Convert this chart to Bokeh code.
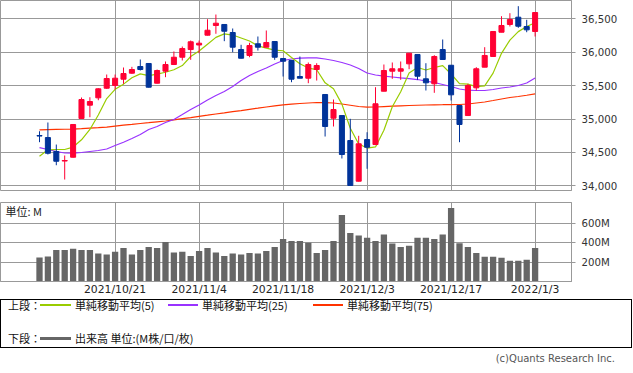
from bokeh.plotting import figure
from bokeh.layouts import column
from bokeh.models import (Range1d, FixedTicker, Grid, Label, Div,
                          NumeralTickFormatter, PrintfTickFormatter, ColumnDataSource)
from bokeh.embed import file_html
from bokeh.resources import INLINE

# ---------------- data ----------------
opens = [34753, 34723, 34514, 34371, 34428, 35008, 35207, 35317, 35461, 35502,
         35596, 35686, 35786, 35831, 35536, 35716, 35816, 35925, 36040, 36108,
         36255, 36400, 36415, 36295, 36040, 35951, 36126, 36075, 36160, 35906,
         35876, 35636, 35611, 35741, 35367, 35012, 35052, 34678, 34069, 34693,
         34618, 35416, 35716, 35716, 35826, 35966, 35602, 35527, 36040, 35805,
         35202, 35052, 35467, 35776, 35936, 36299, 36415, 36524, 36385, 36310]
highs = [34817, 34948, 34618, 34454, 34925, 35322, 35326, 35461, 35666, 35666,
         35771, 35781, 35891, 35838, 35741, 35861, 36011, 36085, 36175, 36175,
         36494, 36564, 36415, 36355, 36111, 36141, 36235, 36325, 36160, 35906,
         35876, 35936, 35846, 35835, 35367, 35292, 35052, 35003, 34749, 34802,
         35476, 35816, 35846, 35861, 35985, 35966, 35835, 35955, 36190, 35805,
         35202, 35527, 35776, 36075, 36310, 36539, 36584, 36689, 36485, 36594]
lows = [34653, 34469, 34308, 34094, 34424, 35008, 35027, 35281, 35452, 35442,
        35527, 35677, 35726, 35472, 35532, 35626, 35808, 35876, 35886, 35985,
        36250, 36276, 36165, 36000, 35906, 35925, 36025, 36075, 35886, 35636,
        35551, 35611, 35536, 35576, 34738, 34888, 34409, 34005, 34065, 34255,
        34618, 35416, 35602, 35587, 35746, 35587, 35427, 35392, 35891, 35277,
        34653, 35052, 35427, 35776, 35936, 36299, 36385, 36365, 36299, 36235]
closes = [34745, 34488, 34368, 34379, 34918, 35292, 35262, 35452, 35606, 35611,
          35681, 35741, 35741, 35476, 35726, 35816, 35925, 36055, 36156, 36135,
          36329, 36434, 36314, 36075, 35910, 36100, 36075, 36145, 35925, 35865,
          35596, 35611, 35816, 35801, 34888, 35142, 34469, 34005, 34629, 34578,
          35228, 35726, 35752, 35752, 35985, 35641, 35542, 35936, 35891, 35362,
          34918, 35502, 35752, 35951, 36310, 36400, 36490, 36389, 36335, 36594]
ma5 = [34443, 34539, 34544, 34544, 34580, 34689, 34844, 35061, 35306, 35445,
       35522, 35618, 35676, 35650, 35673, 35700, 35737, 35800, 35936, 36017,
       36120, 36222, 36274, 36257, 36212, 36167, 36095, 36061, 36031, 36022,
       35921, 35828, 35763, 35738, 35542, 35452, 35223, 34861, 34627, 34565,
       34582, 34833, 35183, 35407, 35689, 35771, 35734, 35771, 35799, 35674,
       35530, 35522, 35485, 35497, 35687, 35983, 36181, 36308, 36385, 36442]
ma25 = [34573, 34544, 34514, 34491, 34488, 34499, 34514, 34529, 34551, 34603,
        34653, 34708, 34768, 34843, 34888, 34948, 34993, 35067, 35142, 35210,
        35285, 35352, 35412, 35487, 35576, 35651, 35711, 35764, 35823, 35876,
        35898, 35910, 35916, 35916, 35898, 35876, 35846, 35808, 35756, 35689,
        35659, 35641, 35629, 35617, 35606, 35591, 35569, 35546, 35517, 35487,
        35449, 35431, 35427, 35427, 35442, 35464, 35479, 35502, 35539, 35614]
ma75 = [34838, 34841, 34844, 34847, 34850, 34857, 34865, 34872, 34880, 34895,
        34908, 34920, 34933, 34945, 34958, 34970, 34987, 35005, 35022, 35040,
        35057, 35075, 35092, 35110, 35127, 35145, 35162, 35180, 35197, 35213,
        35223, 35232, 35240, 35247, 35244, 35240, 35225, 35206, 35187, 35177,
        35180, 35186, 35192, 35198, 35202, 35206, 35210, 35213, 35214, 35216,
        35217, 35225, 35240, 35255, 35277, 35300, 35322, 35337, 35356, 35377]
volume_m = [248, 258, 327, 327, 338, 327, 327, 289, 279, 307,
            348, 279, 327, 358, 348, 410, 300, 307, 265, 317,
            348, 300, 265, 289, 279, 296, 289, 317, 358, 441,
            420, 420, 400, 296, 327, 420, 688, 503, 476, 452,
            420, 486, 393, 358, 369, 452, 452, 441, 486, 762,
            396, 358, 296, 255, 255, 245, 214, 214, 224, 348]
tick_index = [9, 19, 29, 39, 49, 59]
tick_labels = ["2021/10/21", "2021/11/4", "2021/11/18", "2021/12/3", "2021/12/17", "2022/1/3"]
price_ticks = [34000, 34500, 35000, 35500, 36000, 36500]
volume_ticks = [200, 400, 600]
legend_names = ["単純移動平均(5)", "単純移動平均(25)", "単純移動平均(75)"]
volume_legend = "出来高 単位:(M株/口/枚)"

# ---------------- style ----------------
RED = "#ff0033"
BLUE = "#003399"
GREEN = "#99cc00"
PURPLE = "#9933ff"
ORANGE = "#ff3300"
VOLC = "#666666"
GRID = "#999999"
TXT = "#333333"
NUM_FONT = "DejaVu Sans"
JP_FONT = "Noto Sans CJK JP"

idx = list(range(len(closes)))
X_START, X_END = -4.643, 63.333
x_range = Range1d(X_START, X_END)


def strip_grids(p):
    p.center = [r for r in p.center if not isinstance(r, Grid)]


def style_right_axis(ax, ticks):
    ax.ticker = FixedTicker(ticks=ticks)
    ax.axis_line_color = GRID
    ax.major_tick_line_color = GRID
    ax.major_tick_out = 4
    ax.major_tick_in = 0
    ax.minor_tick_line_color = None
    ax.major_label_standoff = 6
    ax.major_label_text_font = NUM_FONT
    ax.major_label_text_font_size = "10.2px"
    ax.major_label_text_color = TXT


# ---------------- main candlestick panel ----------------
pA = figure(frame_width=571, frame_height=190, x_range=x_range, y_range=Range1d(33930, 36774),
            toolbar_location=None, output_backend="svg",
            x_axis_location=None, y_axis_location="right",
            min_border_left=0, min_border_top=0, min_border_right=40, min_border_bottom=11)
pA.outline_line_color = GRID
strip_grids(pA)
pA.add_layout(Grid(dimension=0, ticker=FixedTicker(ticks=tick_index), grid_line_color=GRID))
pA.add_layout(Grid(dimension=1, ticker=FixedTicker(ticks=price_ticks), grid_line_color=GRID))
style_right_axis(pA.yaxis[0], price_ticks)
pA.yaxis[0].formatter = NumeralTickFormatter(format="0,0")

pA.line(idx, ma75, line_color=ORANGE, line_width=1.2)
pA.line(idx, ma25, line_color=PURPLE, line_width=1.2)
pA.line(idx, ma5, line_color=GREEN, line_width=1.2)

colors = [RED if c >= o else BLUE for o, c in zip(opens, closes)]
src = ColumnDataSource(dict(
    x=idx, h=highs, l=lows,
    top=[max(o, c) for o, c in zip(opens, closes)],
    bottom=[min(o, c) for o, c in zip(opens, closes)],
    color=colors))
pA.segment(x0="x", y0="h", x1="x", y1="l", source=src, line_color="color", line_width=1)
pA.vbar(x="x", width=0.6, top="top", bottom="bottom", source=src,
        fill_color="color", line_color="color", line_width=1)

# ---------------- volume panel ----------------
pB = figure(frame_width=571, frame_height=79, x_range=x_range, y_range=Range1d(0, 818),
            toolbar_location=None, output_backend="svg",
            x_axis_location="below", y_axis_location="right",
            min_border_left=0, min_border_top=1, min_border_right=40, min_border_bottom=16)
pB.outline_line_color = GRID
strip_grids(pB)
pB.add_layout(Grid(dimension=0, ticker=FixedTicker(ticks=tick_index), grid_line_color=GRID))
pB.add_layout(Grid(dimension=1, ticker=FixedTicker(ticks=volume_ticks), grid_line_color=GRID))
style_right_axis(pB.yaxis[0], volume_ticks)
pB.yaxis[0].formatter = PrintfTickFormatter(format="%dM")
xa = pB.xaxis[0]
xa.ticker = FixedTicker(ticks=tick_index)
xa.major_label_overrides = {t: s for t, s in zip(tick_index, tick_labels)}
xa.axis_line_color = GRID
xa.major_tick_out = 0
xa.major_tick_in = 0
xa.minor_tick_line_color = None
xa.major_label_standoff = 1
xa.major_label_text_font = NUM_FONT
xa.major_label_text_font_size = "10.8px"
xa.major_label_text_color = "#222222"
pB.vbar(x=idx, top=volume_m, width=0.75, fill_color=VOLC, line_color=None)
pB.add_layout(Label(x=X_START + 5 / 8.4, y=731, text="単位: M", text_baseline="middle",
                    text_font=JP_FONT, text_font_size="11px", text_color="#222222"))

# ---------------- legend / footer (HTML text) ----------------
def txt(left, cy, t, size=11, font=JP_FONT, color="#111"):
    return (f'<div style="position:absolute;left:{left}px;top:{cy - 8}px;height:16px;'
            f'line-height:16px;font-family:\'{font}\';font-size:{size}px;color:{color};'
            f'white-space:nowrap;">{t}</div>')


def sample(left, width, cy, thick, col):
    return (f'<div style="position:absolute;left:{left}px;top:{cy - thick / 2}px;'
            f'width:{width}px;height:{thick}px;background:{col};"></div>')


row1, row2 = 7, 40
html = ('<div style="position:relative;width:633px;height:76px;">'
        '<div style="position:absolute;left:0px;top:1px;width:632px;height:49px;'
        'box-sizing:border-box;border:1px solid #000;"></div>'
        + txt(8, row1, "上段：")
        + sample(40, 31, row1, 1.2, GREEN) + txt(75, row1, legend_names[0])
        + sample(168, 30, row1, 1.2, PURPLE) + txt(202, row1, legend_names[1])
        + sample(313, 30, row1, 1.2, ORANGE) + txt(347, row1, legend_names[2])
        + txt(8, row2, "下段：")
        + sample(40, 31, row2, 3, VOLC) + txt(75, row2, volume_legend)
        + '<div style="position:absolute;right:18px;top:53px;height:16px;line-height:16px;'
          'font-family:\'DejaVu Sans\';font-size:10px;color:#555;white-space:nowrap;">'
          '(c)Quants Research Inc.</div>'
        '</div>')
footer = Div(text=html, width=633, height=76, margin=0)

layout = column(pA, pB, footer, spacing=0)
open("out.html", "w").write(file_html(layout, INLINE))
